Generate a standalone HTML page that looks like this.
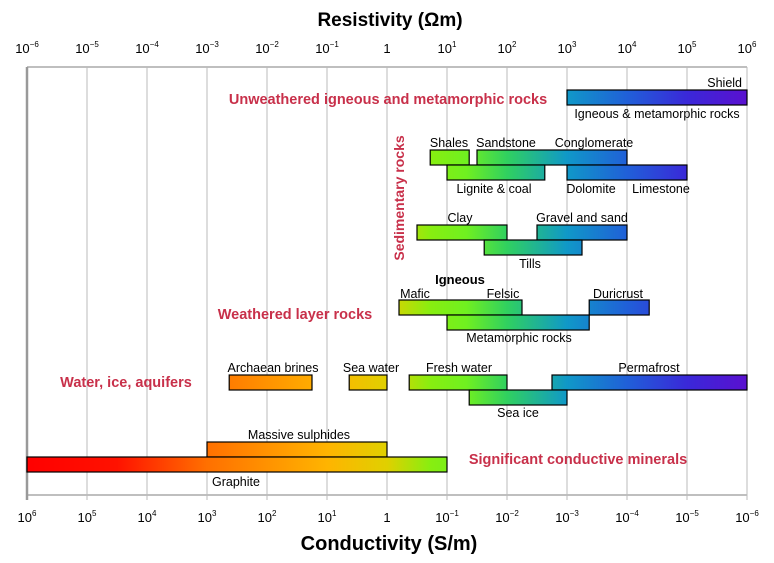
<!DOCTYPE html>
<html><head><meta charset="utf-8"><style>
body{margin:0;background:#fff;}
svg text{font-family:"Comic Sans MS","Liberation Sans",sans-serif;}
</style></head><body>
<svg id="chart" width="774" height="558" viewBox="0 0 774 558" xmlns="http://www.w3.org/2000/svg">
<defs>
<linearGradient id="grad" gradientUnits="userSpaceOnUse" x1="27" y1="0" x2="747" y2="0">
<stop offset="0" stop-color="#ff0000"/>
<stop offset="0.125" stop-color="#ff1200"/>
<stop offset="0.25" stop-color="#ff7000"/>
<stop offset="0.417" stop-color="#ffb400"/>
<stop offset="0.5" stop-color="#e0d000"/>
<stop offset="0.56" stop-color="#88ee10"/>
<stop offset="0.61" stop-color="#70f020"/>
<stop offset="0.667" stop-color="#30d060"/>
<stop offset="0.75" stop-color="#1098c8"/>
<stop offset="0.833" stop-color="#2060d8"/>
<stop offset="0.917" stop-color="#3a28d8"/>
<stop offset="1" stop-color="#5a10d0"/>
</linearGradient>
</defs>
<g id="grid"></g>
<g id="bars"></g>
<g id="labels"></g>
</svg>
<script>
const decades = [-6,-5,-4,-3,-2,-1,0,1,2,3,4,5,6];
const barNames = ["igneous-metamorphic","shales","sandstone-conglomerate","lignite-coal","dolomite-limestone","clay","gravel-sand","tills","mafic-felsic","duricrust","metamorphic-rocks","archaean-brines","sea-water","fresh-water","permafrost","sea-ice","massive-sulphides","graphite"];
const barStart = [3,0.72,1.5,1,3,0.5,2.5,1.62,0.2,3.37,1,-2.63,-0.63,0.37,2.75,1.37,-3,-6];
const barEnd   = [6,1.37,4,2.63,5,2,4,3.25,2.25,4.37,3.37,-1.25,0,2,6,3,0,1];
const barRow   = [90,150,150,165,165,225,225,240,300,300,315,375,375,375,375,390,442,457];

const NS="http://www.w3.org/2000/svg";
function xs(v){return 27+(v+6)*60;}
function el(tag,attrs,parent,txt){const e=document.createElementNS(NS,tag);for(const k in attrs)e.setAttribute(k,attrs[k]);if(txt!==undefined)e.textContent=txt;parent.appendChild(e);return e;}
const grid=document.getElementById('grid'),bars=document.getElementById('bars'),labels=document.getElementById('labels');

let l=el('line',{x1:27,y1:67,x2:747,y2:67,stroke:'#aaa','stroke-width':1.5},grid);


l=el('line',{x1:27,y1:495,x2:747,y2:495,stroke:'#aaa','stroke-width':1.5},grid);


decades.forEach(function(d,i){
  const x=xs(d);
  const g=el('line',{x1:x,y1:67,x2:x,y2:500,stroke:i===0?'#999':'#bbb','stroke-width':i===0?2.5:1},grid);
  
  
  const t=el('text',{x:x,y:53,'text-anchor':'middle','font-size':13,fill:'#000','font-family':'"Liberation Serif",serif'},labels);
  
  
  if(d===0){t.textContent='1';}else{t.textContent='10';el('tspan',{'font-size':8,dy:-6},t,(d<0?'\u2212':'')+Math.abs(d));}
  const b=el('text',{x:x,y:522,'text-anchor':'middle','font-size':13,fill:'#000','font-family':'"Liberation Serif",serif'},labels);
  
  
  const c=-d;
  if(c===0){b.textContent='1';}else{b.textContent='10';el('tspan',{'font-size':8,dy:-6},b,(c<0?'\u2212':'')+Math.abs(c));}
});
barNames.forEach(function(n,i){
  const x1=xs(barStart[i]),x2=xs(barEnd[i]);
  const r=el('rect',{x:x1,y:barRow[i],width:x2-x1,height:15,fill:'url(#grad)',stroke:'#000','stroke-width':1.2},bars);
  
  
});
const txt=[
 ["Resistivity (\u03A9m)",390,26,19,'#000','middle','bold','axis-title-top'],
 ["Conductivity (S/m)",389,550,20,'#000','middle','bold','axis-title-bottom'],
 ["Unweathered igneous and metamorphic rocks",388,104,14.5,'#c8304a','middle','bold','group-unweathered'],
 ["Weathered layer rocks",295,319,14.5,'#c8304a','middle','bold','group-weathered'],
 ["Water, ice, aquifers",126,387,14.5,'#c8304a','middle','bold','group-water'],
 ["Significant conductive minerals",578,464,14.5,'#c8304a','middle','bold','group-conductive'],
 ["Shield",742,87,12.5,'#000','end','normal','label-shield'],
 ["Igneous & metamorphic rocks",657,118,12.5,'#000','middle','normal','label-igneous-metamorphic'],
 ["Shales",449,147,12.5,'#000','middle','normal','label-shales'],
 ["Sandstone",506,147,12.5,'#000','middle','normal','label-sandstone'],
 ["Conglomerate",594,147,12.5,'#000','middle','normal','label-conglomerate'],
 ["Lignite & coal",494,193,12.5,'#000','middle','normal','label-lignite'],
 ["Dolomite",591,193,12.5,'#000','middle','normal','label-dolomite'],
 ["Limestone",661,193,12.5,'#000','middle','normal','label-limestone'],
 ["Clay",460,222,12.5,'#000','middle','normal','label-clay'],
 ["Gravel and sand",582,222,12.5,'#000','middle','normal','label-gravel'],
 ["Tills",530,268,12.5,'#000','middle','normal','label-tills'],
 ["Igneous",460,284,13,'#000','middle','bold','label-igneous'],
 ["Mafic",415,298,12.5,'#000','middle','normal','label-mafic'],
 ["Felsic",503,298,12.5,'#000','middle','normal','label-felsic'],
 ["Duricrust",618,298,12.5,'#000','middle','normal','label-duricrust'],
 ["Metamorphic rocks",519,342,12.5,'#000','middle','normal','label-metamorphic'],
 ["Archaean brines",273,372,12.5,'#000','middle','normal','label-brines'],
 ["Sea water",371,372,12.5,'#000','middle','normal','label-seawater'],
 ["Fresh water",459,372,12.5,'#000','middle','normal','label-freshwater'],
 ["Permafrost",649,372,12.5,'#000','middle','normal','label-permafrost'],
 ["Sea ice",518,417,12.5,'#000','middle','normal','label-seaice'],
 ["Massive sulphides",299,439,12.5,'#000','middle','normal','label-sulphides'],
 ["Graphite",236,486,12.5,'#000','middle','normal','label-graphite']
];
txt.forEach(function(t){
  const e=el('text',{x:t[1],y:t[2],'font-size':t[3],fill:t[4],'text-anchor':t[5],'font-weight':t[6]},labels,t[0]);
  
  
});
const s=el('text',{x:0,y:0,'font-size':14,fill:'#c8304a','text-anchor':'middle','font-weight':'bold',transform:'translate(404,198) rotate(-90)'},labels,'Sedimentary rocks');


</script>
</body></html>
